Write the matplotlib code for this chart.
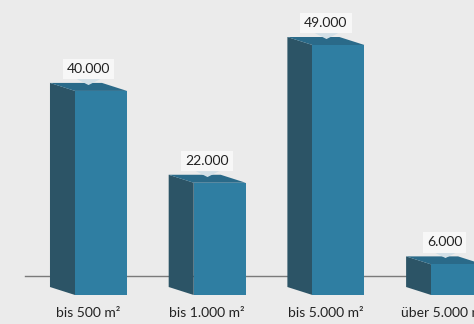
import matplotlib
matplotlib.use("Agg")
import matplotlib.pyplot as plt
from matplotlib.patches import Polygon
from matplotlib.transforms import offset_copy

categories = ["bis 500 m²", "bis 1.000 m²", "bis 5.000 m²", "über 5.000 m²"]
values = [40000, 22000, 49000, 6000]
value_labels = ["40.000", "22.000", "49.000", "6.000"]

BG = "#ebebeb"
FRONT = "#2f7ea2"
SIDE = "#2c5466"
TOP = "#2a6a89"

fig = plt.figure(figsize=(4.74, 3.24), dpi=100, facecolor=BG)
ax = fig.add_axes([0, 0, 1, 1], facecolor=BG)
ax.set_xlim(-0.851, 3.142)
ax.set_ylim(-5684, 57820)
ax.axis("off")

w = 0.438      # front width (x units)
dx = -0.211    # depth offset x
dy = 1568      # depth offset y

# baseline behind bars
ax.axhline(3724, xmin=0.053, xmax=1.0, color="#7a7a7a", lw=1.0, zorder=1)

notch = [(-1, 0.2), (1, 0.2), (0, -0.3)]
font = "Lato"
for i, (cat, v, lab) in enumerate(zip(categories, values, value_labels)):
    x0, x1 = i - w / 2, i + w / 2
    # side face (left)
    ax.add_patch(Polygon([(x0, 0), (x0 + dx, dy), (x0 + dx, v + dy), (x0, v)],
                         closed=True, fc=SIDE, ec="none", zorder=2))
    # top face
    ax.add_patch(Polygon([(x0, v), (x0 + dx, v + dy), (x1 + dx, v + dy), (x1, v)],
                         closed=True, fc=TOP, ec="none", zorder=2))
    # front face
    ax.add_patch(Polygon([(x0, 0), (x1, 0), (x1, v), (x0, v)],
                         closed=True, fc=FRONT, ec="none", zorder=3))
    xc = i + dx / 2
    # pointer notch
    tr = offset_copy(ax.transData, fig=fig, x=0, y=1.5, units="points")
    ax.plot([xc], [v + dy], marker=notch, ms=17, mew=0, color="#d3e0e7",
            transform=tr, zorder=4)
    # value label box
    ax.annotate(lab, (xc, v + dy), xytext=(0, 10), textcoords="offset points",
                ha="center", va="center", fontsize=10, family=font,
                color="#222222", zorder=5,
                bbox=dict(boxstyle="square,pad=0.3", fc="#f7f7f7", ec="none"))
    # category label
    ax.annotate(cat, (xc, 0), xytext=(0, -13), textcoords="offset points",
                ha="center", va="center", fontsize=10, family=font,
                color="#222222", zorder=5)

fig.savefig("out.png", dpi=100, facecolor=BG)
